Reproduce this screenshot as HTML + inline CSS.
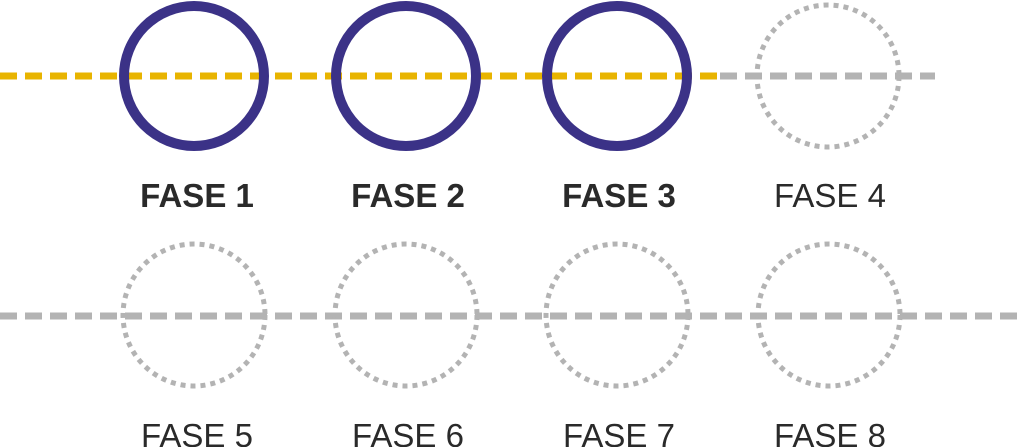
<!DOCTYPE html>
<html><head><meta charset="utf-8"><style>
html,body{margin:0;padding:0;background:#fff;width:1024px;height:447px;overflow:hidden}
</style></head><body>
<svg width="1024" height="447" viewBox="0 0 1024 447" xmlns="http://www.w3.org/2000/svg">
<line x1="720" y1="76" x2="935" y2="76" stroke="#b3b3b3" stroke-width="7" stroke-dasharray="17 8"/>
<circle cx="828" cy="76" r="71" fill="none" stroke="#b3b3b3" stroke-width="5" stroke-dasharray="5 5"/>
<line x1="0" y1="76" x2="722" y2="76" stroke="#e8b400" stroke-width="7" stroke-dasharray="17 8"/>
<circle cx="194" cy="76" r="70" fill="none" stroke="#3b3287" stroke-width="10"/>
<circle cx="406" cy="76" r="70" fill="none" stroke="#3b3287" stroke-width="10"/>
<circle cx="617" cy="76" r="70" fill="none" stroke="#3b3287" stroke-width="10"/>
<line x1="0" y1="316" x2="1024" y2="316" stroke="#b3b3b3" stroke-width="7" stroke-dasharray="17 8"/>
<g fill="none" stroke="#b3b3b3" stroke-width="5" stroke-dasharray="5 5">
<circle cx="194" cy="315" r="71"/><circle cx="406" cy="315" r="71"/>
<circle cx="617" cy="315" r="71"/><circle cx="829" cy="315" r="71"/>
</g>
<g font-family="Liberation Sans, sans-serif" font-size="33" fill="#2a2a2a" text-anchor="middle">
<g font-weight="bold">
<text x="197" y="207">FASE 1</text><text x="408" y="207">FASE 2</text><text x="619" y="207">FASE 3</text>
</g>
<text x="830" y="207">FASE 4</text>
<text x="197" y="447">FASE 5</text><text x="408" y="447">FASE 6</text>
<text x="619" y="447">FASE 7</text><text x="830" y="447">FASE 8</text>
</g>
</svg>
</body></html>
